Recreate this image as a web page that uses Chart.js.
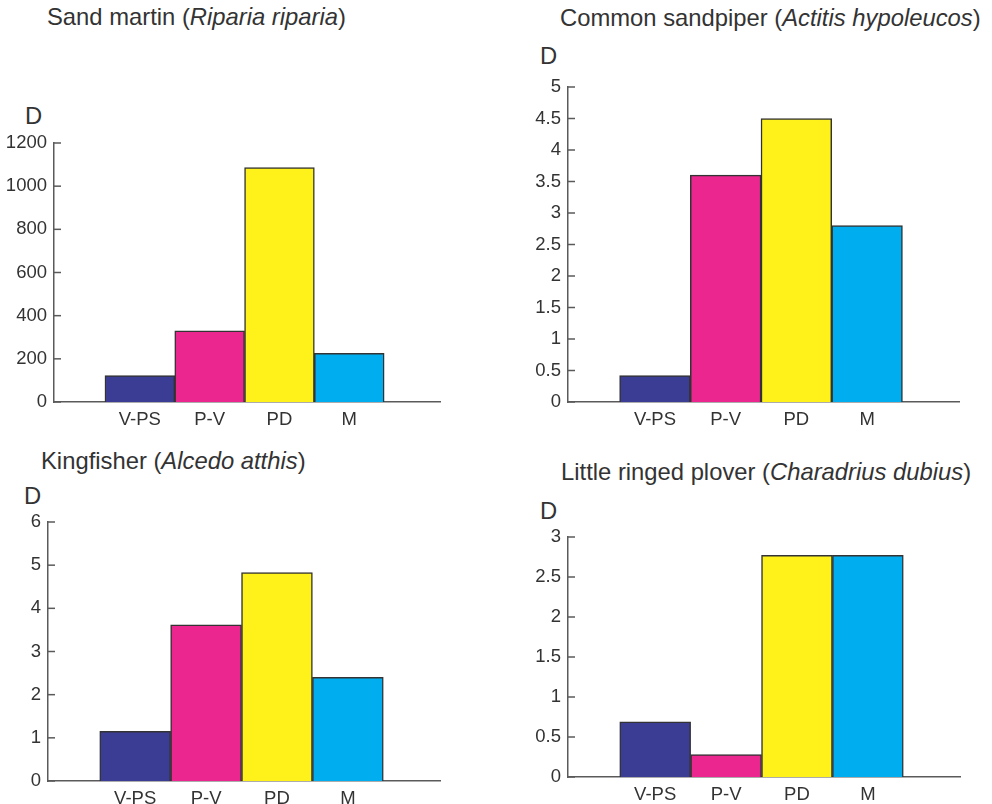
<!DOCTYPE html>
<html>
<head>
<meta charset="utf-8">
<script src="https://cdn.jsdelivr.net/npm/chart.js@4"></script>
<style>
  html, body { margin: 0; padding: 0; background: #ffffff; }
  body { width: 992px; height: 804px; position: relative; overflow: hidden;
         font-family: "Liberation Sans", Arial, Helvetica, sans-serif; color: #333333; }
  canvas { position: absolute; left: 0; top: 0; }
  .lbl { position: absolute; font-size: 23.8px; line-height: 24px; white-space: nowrap; color: #333333; }
</style>
</head>
<body>
<div class="lbl" style="left:47px; top:5px;">Sand martin (<i>Riparia riparia</i>)</div>
<div class="lbl" style="left:560px; top:6px;">Common sandpiper (<i>Actitis hypoleucos</i>)</div>
<div class="lbl" style="left:41px; top:449px;">Kingfisher (<i>Alcedo atthis</i>)</div>
<div class="lbl" style="left:561px; top:460px;">Little ringed plover (<i>Charadrius dubius</i>)</div>
<div class="lbl" style="left:25px; top:104px;">D</div>
<div class="lbl" style="left:540px; top:44px;">D</div>
<div class="lbl" style="left:24px; top:484px;">D</div>
<div class="lbl" style="left:540px; top:499px;">D</div>
<canvas id="c1" width="992" height="804"></canvas>
<canvas id="c2" width="992" height="804"></canvas>
<canvas id="c3" width="992" height="804"></canvas>
<canvas id="c4" width="992" height="804"></canvas>
<script>
// ---- data ----
const categories = ['V-PS', 'P-V', 'PD', 'M'];
const categoryPositions = [1, 2, 3, 4];
const sandMartin = [122, 330, 1086, 226];
const commonSandpiper = [0.42, 3.6, 4.5, 2.8];
const kingfisher = [1.15, 3.62, 4.83, 2.4];
const littleRingedPlover = [0.69, 0.28, 2.77, 2.77];
const yMaxima = [1200, 5, 6, 3];
const yStepSizes = [200, 0.5, 1, 0.5];
const barColors = ['#3b3d95', '#ec268f', '#fff21a', '#00aeef'];

// ---- layout (chart-area boxes) ----
const areas = [
  { id: 'c1', left: 54, right: 440, top: 143, bottom: 402 },
  { id: 'c2', left: 568, right: 959, top: 87, bottom: 402 },
  { id: 'c3', left: 48, right: 440, top: 522, bottom: 781 },
  { id: 'c4', left: 568, right: 960, top: 537, bottom: 777 }
];
const seriesList = [sandMartin, commonSandpiper, kingfisher, littleRingedPlover];

const Y_W = 48, X_H = 40, W = 992, H = 804;
const axisColor = '#5a5a5a';
const fontSpec = { family: '"Liberation Sans", Arial, Helvetica, sans-serif', size: 18.5 };

const innerTicks = {
  id: 'innerTicks',
  afterDraw(chart) {
    const ys = chart.scales.y, ca = chart.chartArea, ctx = chart.ctx;
    ctx.save();
    ctx.strokeStyle = axisColor;
    ctx.lineWidth = 1.5;
    ys.ticks.forEach(t => {
      const py = ys.getPixelForValue(t.value);
      ctx.beginPath();
      ctx.moveTo(ca.left, py);
      ctx.lineTo(ca.left + 7, py);
      ctx.stroke();
    });
    ctx.restore();
  }
};

areas.forEach((a, i) => {
  const vals = seriesList[i];
  new Chart(document.getElementById(a.id), {
    type: 'bar',
    data: {
      datasets: [{
        data: categoryPositions.map((x, k) => ({ x: x, y: vals[k] })),
        backgroundColor: barColors,
        borderColor: '#333333',
        borderWidth: 1.5,
        barPercentage: 1,
        categoryPercentage: 1
      }]
    },
    options: {
      responsive: false,
      animation: false,
      devicePixelRatio: 1,
      layout: { padding: { left: a.left - Y_W, right: W - a.right, top: a.top, bottom: H - a.bottom - X_H } },
      plugins: { legend: { display: false }, tooltip: { enabled: false }, title: { display: false } },
      scales: {
        x: {
          type: 'linear',
          min: -0.23,
          max: 5.3,
          offset: false,
          afterFit(s) { s.height = X_H; },
          afterBuildTicks(s) { s.ticks = categoryPositions.map(v => ({ value: v })); },
          ticks: {
            color: '#333333',
            font: fontSpec,
            padding: 7,
            autoSkip: false,
            maxRotation: 0,
            callback: (v) => { const k = categoryPositions.indexOf(v); return k >= 0 ? categories[k] : ''; }
          },
          grid: { display: false, drawTicks: false },
          border: { display: true, color: axisColor, width: 1.5 }
        },
        y: {
          min: 0,
          max: yMaxima[i],
          afterFit(s) { s.width = Y_W; },
          ticks: {
            stepSize: yStepSizes[i], color: '#333333', font: fontSpec, padding: 7,
            callback: (v) => String(Math.round(v * 100) / 100)
          },
          grid: { display: false, drawTicks: false },
          border: { display: true, color: axisColor, width: 1.5 }
        }
      }
    },
    plugins: [innerTicks]
  });
});
</script>
</body>
</html>
